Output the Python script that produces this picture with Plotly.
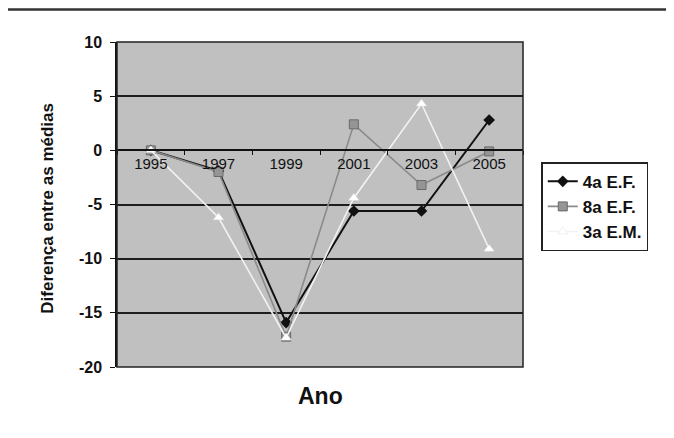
import plotly.graph_objects as go

years = ["1995", "1997", "1999", "2001", "2003", "2005"]
ef4 = [0.0, -1.9, -15.9, -5.6, -5.6, 2.8]
ef8 = [0.0, -2.0, -17.2, 2.4, -3.2, -0.1]
em3 = [0.0, -6.2, -17.3, -4.4, 4.3, -9.1]
series_names = ["4a E.F.", "8a E.F.", "3a E.M."]
y_ticks = [10, 5, 0, -5, -10, -15, -20]

FONT = "Liberation Sans, Arial, sans-serif"

fig = go.Figure()
fig.add_trace(go.Scatter(
    x=years, y=ef4, name=series_names[0], mode="lines+markers", legendgroup="a",
    line=dict(color="#111111", width=2),
    marker=dict(symbol="diamond", size=9, color="#111111")))
fig.add_trace(go.Scatter(
    x=years, y=ef8, name=series_names[1], mode="lines+markers", legendgroup="b",
    line=dict(color="#8a8a8a", width=1.6),
    marker=dict(symbol="square", size=9, color="#959595", line=dict(color="#6a6a6a", width=1))))
fig.add_trace(go.Scatter(
    x=years, y=em3, name=series_names[2], mode="lines+markers", legendgroup="c",
    line=dict(color="#f2f2f2", width=1.6),
    marker=dict(symbol="triangle-up", size=9, color="#ffffff", line=dict(color="#e0e0e0", width=0.5))))

fig.update_layout(
    width=666, height=430,
    margin=dict(l=109, r=151, t=34, b=71),
    paper_bgcolor="white",
    plot_bgcolor="#c0c0c0",
    font=dict(family=FONT, color="#111111"),
    showlegend=True,
    legend=dict(
        x=1.045, y=0.63, xanchor="left", yanchor="top",
        bgcolor="white", bordercolor="#222222", borderwidth=1.5,
        font=dict(size=17, family=FONT, color="#111111", weight="bold"),
        tracegroupgap=5, traceorder="normal",
    ),
    xaxis=dict(
        type="category", categoryorder="array", categoryarray=years,
        range=[-0.5, 5.5],
        anchor="free", position=2/3,
        showline=True, linecolor="#111111", linewidth=1.8,
        ticks="outside", ticklen=4, tickcolor="#111111", tickson="boundaries",
        showgrid=False, zeroline=False,
        tickfont=dict(size=15, family=FONT, color="#111111"),
    ),
    yaxis=dict(
        range=[-20, 10], tickvals=y_ticks, ticktext=[str(v) for v in y_ticks],
        showline=True, linecolor="#111111", linewidth=1.5,
        ticks="outside", ticklen=5, tickcolor="#111111", ticklabelstandoff=5,
        showgrid=True, gridcolor="#1e1e1e", gridwidth=1.6,
        zeroline=False,
        tickfont=dict(size=16, family=FONT, color="#111111", weight="bold"),
    ),
    annotations=[
        dict(text="Ano", xref="paper", yref="paper", x=0.5, y=-0.09,
             showarrow=False, xanchor="center", yanchor="middle",
             font=dict(size=23, family=FONT, color="#111111", weight="bold")),
        dict(text="Diferença entre as médias", xref="paper", yref="paper",
             x=-0.17, y=0.49, textangle=-90, showarrow=False,
             xanchor="center", yanchor="middle",
             font=dict(size=17, family=FONT, color="#111111", weight="bold")),
    ],
    shapes=[
        dict(type="rect", xref="paper", yref="paper", x0=0, x1=1, y0=0, y1=1,
             line=dict(color="#222222", width=1.5), layer="above"),
        dict(type="line", xref="paper", yref="paper", x0=-0.29, x1=1.4, y0=1.1, y1=1.1,
             line=dict(color="#333333", width=2.5)),
        dict(type="line", xref="paper", yref="paper", x0=-0.276, x1=-0.276, y0=-0.3, y1=1.1,
             line=dict(color="#333333", width=1.5)),
    ],
)

fig.write_html("out.html")
